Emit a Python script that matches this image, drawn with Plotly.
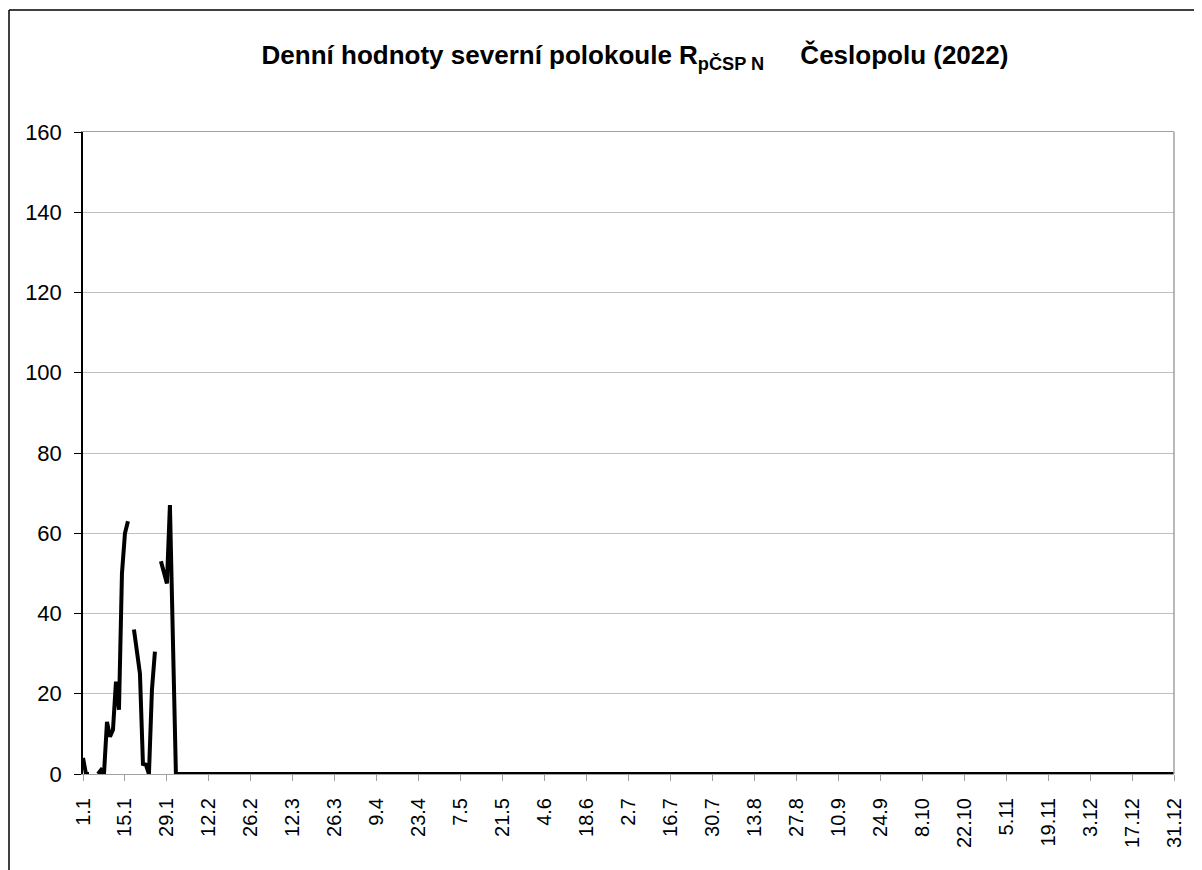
import plotly.graph_objects as go

# Day-of-year index (1 = 1.1., 365 = 31.12.)
days = list(range(1, 366))

values_jan = [
    4, 0, 0, None, None, 0, 1, 0, 13, 9.3,
    11, 23, 16, 50, 60, 63, None, 36, 31, 25,
    2.5, 2.3, 0, 21, 30.5, None, 53, 50, 47.5, 67,
    38,
]
# From 1.2. to 31.12. the line sits at zero
values_rest = [0] * (365 - len(values_jan))
values = values_jan + values_rest

tick_days = [1, 15, 29, 43, 57, 71, 85, 99, 113, 127, 141, 155, 169, 183,
             197, 211, 225, 239, 253, 267, 281, 295, 309, 323, 337, 351, 365]
tick_labels = ["1.1", "15.1", "29.1", "12.2", "26.2", "12.3", "26.3", "9.4",
               "23.4", "7.5", "21.5", "4.6", "18.6", "2.7", "16.7", "30.7",
               "13.8", "27.8", "10.9", "24.9", "8.10", "22.10", "5.11",
               "19.11", "3.12", "17.12", "31.12"]
y_ticks = [0, 20, 40, 60, 80, 100, 120, 140, 160]

# the page body adds an 8px offset; compensate so the plot lands in place
OFF = 8
W, H = 1202 - OFF, 870 - OFF
L, T = 83 - OFF, 132 - OFF
R = W - (1174 - OFF)
B = H - (774 - OFF)
pw, ph = W - L - R, H - T - B

def px_x(x):  # page pixel -> paper x
    return (x - OFF - L) / pw

def px_y(y):  # page pixel -> paper y
    return (H - B - (y - OFF)) / ph

fig = go.Figure()
fig.add_trace(go.Scatter(
    x=days, y=values, mode="lines",
    line=dict(color="black", width=4),
    connectgaps=False, hoverinfo="x+y",
))

font_family = "Liberation Sans, Arial, sans-serif"

fig.update_layout(
    width=W, height=H,
    margin=dict(l=L, r=R, t=T, b=B, pad=0),
    paper_bgcolor="white", plot_bgcolor="white",
    showlegend=False,
    font=dict(family=font_family, color="black", size=21),
    title=dict(
        text="<b>Denní hodnoty severní polokoule R<sub>pČSP N</sub>\u00a0\u00a0\u00a0\u00a0 Česlopolu (2022)</b>",
        x=(635 - OFF) / W, xref="container", xanchor="center",
        y=1 - (55 - OFF) / H, yref="container", yanchor="middle",
        font=dict(family=font_family, size=26, color="black"),
    ),
    xaxis=dict(
        range=[1, 365],
        tickmode="array", tickvals=tick_days, ticktext=tick_labels,
        tickangle=-90,
        showgrid=False, zeroline=False,
        showline=True, linecolor="#a0a0a0", linewidth=1, mirror=True,
        ticks="outside", ticklen=6, tickcolor="#a0a0a0",
        ticklabelstandoff=9,
        tickfont=dict(size=20, family=font_family),
    ),
    yaxis=dict(
        range=[0, 160],
        tickmode="array", tickvals=y_ticks,
        showgrid=True, gridcolor="#c0c0c0", gridwidth=1,
        zeroline=False,
        showline=True, linecolor="black", linewidth=1.5,
        ticks="outside", ticklen=7, tickcolor="black",
        ticklabelstandoff=8,
        tickfont=dict(size=22, family=font_family),
    ),
    shapes=[
        # right border of plot area
        dict(type="line", xref="paper", yref="paper", x0=1, x1=1, y0=0, y1=1,
             line=dict(color="#a0a0a0", width=1.5)),
        # outer chart border (left and top)
        dict(type="line", xref="paper", yref="paper",
             x0=px_x(9), x1=px_x(9), y0=px_y(880), y1=px_y(10),
             line=dict(color="black", width=1.5)),
        dict(type="line", xref="paper", yref="paper",
             x0=px_x(9), x1=px_x(1210), y0=px_y(10), y1=px_y(10),
             line=dict(color="black", width=1.5)),
    ],
)

fig.write_html("out.html")
